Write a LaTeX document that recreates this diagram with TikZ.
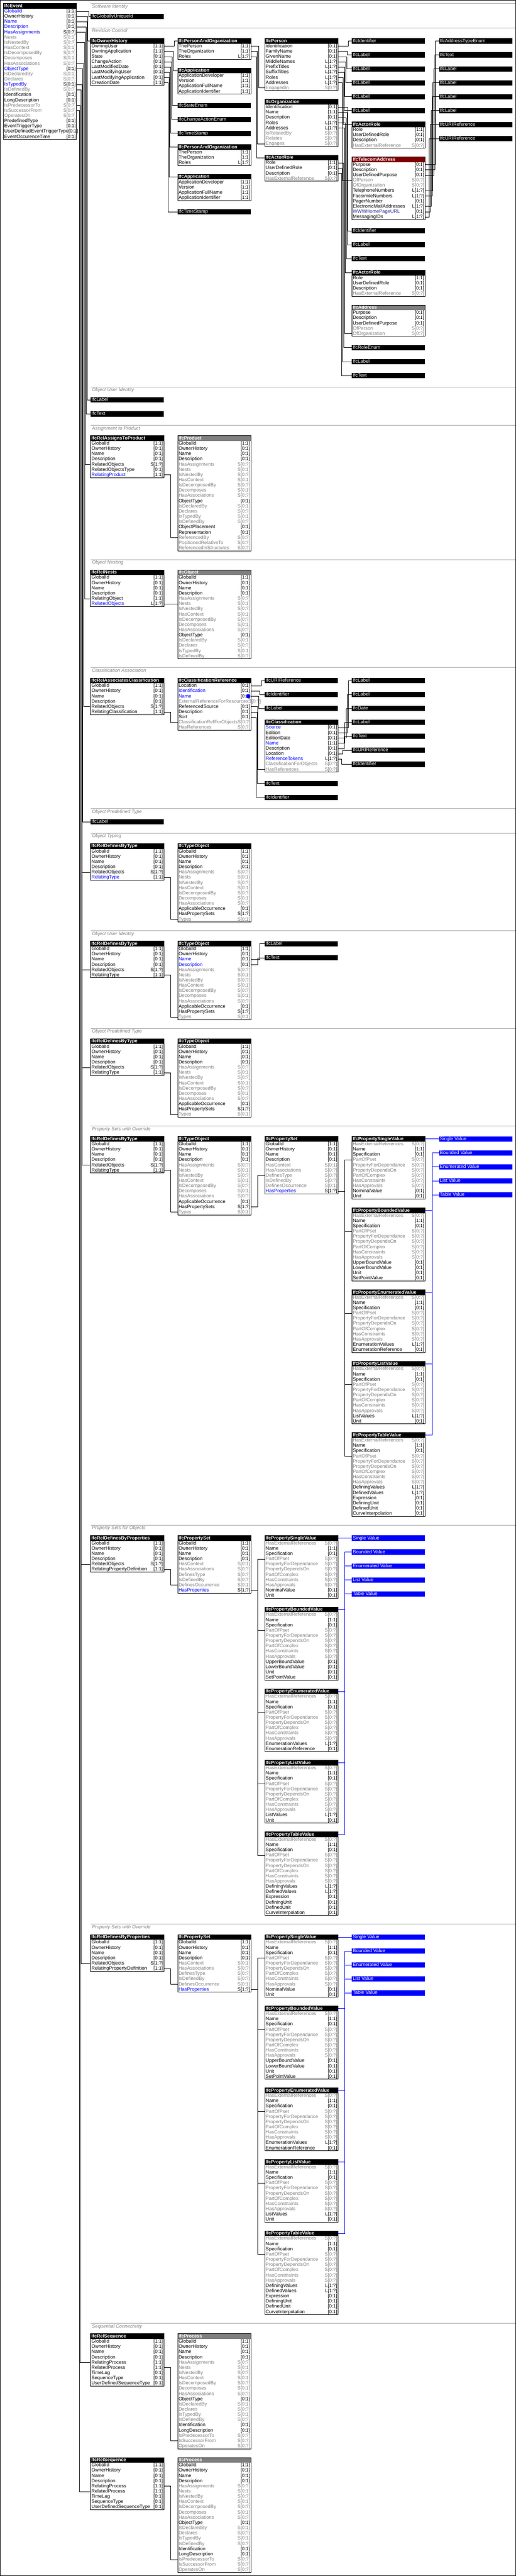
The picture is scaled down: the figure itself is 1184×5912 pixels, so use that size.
\documentclass[tikz,border=0pt]{standalone}
\usepackage{fontspec}
\setmainfont{Liberation Sans}
\usetikzlibrary{calc,fit}
\definecolor{std}{RGB}{0,0,0}
\definecolor{stdc}{RGB}{0,0,0}
\definecolor{hl}{RGB}{0,0,255}
\definecolor{hlc}{RGB}{0,0,0}
\definecolor{nav}{RGB}{40,40,140}
\definecolor{navc}{RGB}{0,0,0}
\definecolor{inv}{RGB}{128,128,128}
\definecolor{invc}{RGB}{128,128,128}
\definecolor{abstract}{RGB}{128,128,128}
\definecolor{selected}{RGB}{128,0,0}
\newcommand{\attrfont}{\fontsize{11}{12}\selectfont}
\newcommand{\headfont}{\fontsize{10.7}{12}\selectfont\bfseries}
\newcommand{\rootattrs}{GlobalId/[1:1]/std,OwnerHistory/[0:1]/std,Name/[0:1]/std,Description/[0:1]/std}
\newcommand{\objinv}{HasAssignments/S[0:?]/inv,Nests/S[0:1]/inv,IsNestedBy/S[0:?]/inv,HasContext/S[0:1]/inv,IsDecomposedBy/S[0:?]/inv,Decomposes/S[0:1]/inv,HasAssociations/S[0:?]/inv}
\newcommand{\objattrs}{\objinv,ObjectType/[0:1]/std,IsDeclaredBy/S[0:1]/inv,Declares/S[0:?]/inv,IsTypedBy/S[0:1]/inv,IsDefinedBy/S[0:?]/inv}
\newcommand{\typeattrs}{\objinv,ApplicableOccurrence/[0:1]/std,HasPropertySets/S[1:?]/std,Types/S[0:1]/inv}
\newcommand{\propattrs}{HasExternalReferences/S[0:?]/inv,Name/[1:1]/std,Specification/[0:1]/std,PartOfPset/S[0:?]/inv,PropertyForDependance/S[0:?]/inv,PropertyDependsOn/S[0:?]/inv,PartOfComplex/S[0:?]/inv,HasConstraints/S[0:?]/inv,HasApprovals/S[0:?]/inv}
\newcommand{\psetattrs}{\rootattrs,HasContext/S[0:1]/inv,HasAssociations/S[0:?]/inv,DefinesType/S[0:?]/inv,IsDefinedBy/S[0:?]/inv,DefinesOccurrence/S[0:1]/inv,HasProperties/S[1:?]/hl}
\newcommand{\procattrs}{\rootattrs,\objattrs,Identification/[0:1]/std,LongDescription/[0:1]/std,IsPredecessorTo/S[0:?]/inv,IsSuccessorFrom/S[0:?]/inv,OperatesOn/S[0:?]/inv}
\newcommand{\seqattrs}{\rootattrs,RelatingProcess/[1:1]/std,RelatedProcess/[1:1]/std,TimeLag/[0:1]/std,SequenceType/[0:1]/std,UserDefinedSequenceType/[0:1]/std}
\newcommand{\roleattrs}{Role/[1:1]/std,UserDefinedRole/[0:1]/std,Description/[0:1]/std,HasExternalReference/S[0:?]/inv}
\newcommand{\poattrs}{ThePerson/[1:1]/std,TheOrganization/[1:1]/std,Roles/L[1:?]/std}
\newcommand{\appattrs}{ApplicationDeveloper/[1:1]/std,Version/[1:1]/std,ApplicationFullName/[1:1]/std,ApplicationIdentifier/[1:1]/std}
\makeatletter
\pgfkeys{
  /ent/.cd,
  id/.store in=\ent@id,
  name/.store in=\ent@name,
  at/.store in=\ent@pos,
  head/.store in=\ent@head,
}
\newcommand{\entitybox}[2][]{
  \pgfkeys{/ent/.cd,head=black,#1}
  \edef\ent@list{#2}
  \node[entity head,fill=\ent@head] (\ent@id) at \ent@pos {\hbox to 164pt{\ent@name\hss}};
  \foreach \a/\c/\k [count=\i] in \ent@list {
    \node[entity row] (\ent@id-\a) at ($ (\ent@id.north west) + (0,12*\i) $) {\hbox to 164pt{\textcolor{\k}{\a}\hfill\textcolor{\k c}{\c}}};
    \xdef\ent@last{\a}
  }
  \node[entity frame,fit=(\ent@id) (\ent@id-\ent@last)] (\ent@id-box) {};
}
\makeatother
\newcommand{\typenode}[4][type bar]{\node[#1] (#2) at (#3) {\hbox to 164pt{#4\hss}};}
\newcommand{\subjectarea}[3]{
  \draw[area line] (208,#2) -- (1183,#2);
  \node[area label] (#1) at (211,#2+2) {#3};
}
\newcommand{\attrlink}[4][]{\draw[relation,#1] (#2.east) -- ++(#4,0) |- (#3.west);}
\newcommand{\propgroup}[5]{
  \entitybox[id=#1-sv,name=IfcPropertySingleValue,at={(#2,#3)}]{\propattrs,NominalValue/[0:1]/std,Unit/[0:1]/std}
  \entitybox[id=#1-bv,name=IfcPropertyBoundedValue,at={(#2,#3+164)}]{\propattrs,UpperBoundValue/[0:1]/std,LowerBoundValue/[0:1]/std,Unit/[0:1]/std,SetPointValue/[0:1]/std}
  \entitybox[id=#1-ev,name=IfcPropertyEnumeratedValue,at={(#2,#3+352)}]{\propattrs,EnumerationValues/L[1:?]/std,EnumerationReference/[0:1]/std}
  \entitybox[id=#1-lv,name=IfcPropertyListValue,at={(#2,#3+516)}]{\propattrs,ListValues/L[1:?]/std,Unit/[0:1]/std}
  \entitybox[id=#1-tv,name=IfcPropertyTableValue,at={(#2,#3+680)}]{\propattrs,DefiningValues/L[1:?]/std,DefinedValues/L[1:?]/std,Expression/[0:1]/std,DefiningUnit/[0:1]/std,DefinedUnit/[0:1]/std,CurveInterpolation/[0:1]/std}
  \typenode[value bar]{#1-single}{#4,#3}{Single Value}
  \typenode[value bar]{#1-bounded}{#4,#3+32}{Bounded Value}
  \typenode[value bar]{#1-enum}{#4,#3+64}{Enumerated Value}
  \typenode[value bar]{#1-list}{#4,#3+96}{List Value}
  \typenode[value bar]{#1-table}{#4,#3+128}{Table Value}
  \foreach \p in {sv,bv,ev,lv,tv} {\attrlink{#5-HasProperties}{#1-\p-PartOfPset}{16}}
  \attrlink[value link]{#1-sv}{#1-single}{16}
  \attrlink[value link]{#1-bv}{#1-bounded}{16}
  \attrlink[value link]{#1-ev}{#1-enum}{16}
  \attrlink[value link]{#1-lv}{#1-list}{16}
  \attrlink[value link]{#1-tv}{#1-table}{16}
}

\begin{document}
\begin{tikzpicture}[
    x=1pt,y=-1pt,
    entity head/.style={anchor=north west,outer sep=0pt,inner xsep=2pt,inner ysep=0pt,minimum height=12pt,text height=8.5pt,text depth=2.5pt,text=white,font=\headfont},
    entity row/.style={anchor=north west,outer sep=0pt,inner xsep=2pt,inner ysep=0pt,minimum height=12pt,text height=8.5pt,text depth=2.5pt,font=\attrfont},
    entity frame/.style={draw,line width=1pt,inner sep=0pt,outer sep=0pt},
    type bar/.style={anchor=north west,outer sep=0pt,fill=black,text=white,inner xsep=2pt,inner ysep=0pt,minimum height=12pt,text height=8.5pt,text depth=2.5pt,font=\attrfont},
    value bar/.style={type bar,fill=blue},
    relation/.style={line width=1pt},
    value link/.style={draw=blue},
    area line/.style={draw=gray!70,line width=1pt},
    area label/.style={anchor=north west,inner sep=0pt,text=gray,font=\attrfont\itshape},
    mark dot/.style={circle,fill=blue,inner sep=0pt,minimum size=10pt},
  ]
  \useasboundingbox (0,0) rectangle (1184,5912);
  \draw[line width=1pt] (0.5,0.5) rectangle (1183.5,5911.5);

  \entitybox[id=ev,name=IfcEvent,at={(8,8)}]{GlobalId/[1:1]/hl,OwnerHistory/[0:1]/std,Name/[0:1]/hl,Description/[0:1]/hl,HasAssignments/S[0:?]/hl,Nests/S[0:1]/inv,IsNestedBy/S[0:?]/inv,HasContext/S[0:1]/inv,IsDecomposedBy/S[0:?]/inv,Decomposes/S[0:1]/inv,HasAssociations/S[0:?]/inv,ObjectType/[0:1]/hl,IsDeclaredBy/S[0:1]/inv,Declares/S[0:?]/inv,IsTypedBy/S[0:1]/hl,IsDefinedBy/S[0:?]/inv,Identification/[0:1]/std,LongDescription/[0:1]/std,IsPredecessorTo/S[0:?]/inv,IsSuccessorFrom/S[0:?]/inv,OperatesOn/S[0:?]/inv,PredefinedType/[0:1]/std,EventTriggerType/[0:1]/std,UserDefinedEventTriggerType/[0:1]/std,EventOccurenceTime/[0:1]/std}

  % software identity
  \subjectarea{area-software}{8}{Software Identity}
  \typenode{guid}{208,32}{IfcGloballyUniqueId}

  % revision control
  \subjectarea{area-revision}{64}{Revision Control}
  \entitybox[id=oh,name=IfcOwnerHistory,at={(208,88)}]{OwningUser/[1:1]/std,OwningApplication/[1:1]/std,State/[0:1]/std,ChangeAction/[0:1]/std,LastModifiedDate/[0:1]/std,LastModifyingUser/[0:1]/std,LastModifyingApplication/[0:1]/std,CreationDate/[1:1]/std}
  \entitybox[id=po1,name=IfcPersonAndOrganization,at={(408,88)}]{\poattrs}
  \entitybox[id=app1,name=IfcApplication,at={(408,156)}]{\appattrs}
  \typenode{state}{408,236}{IfcStateEnum}
  \typenode{change}{408,268}{IfcChangeActionEnum}
  \typenode{stamp1}{408,300}{IfcTimeStamp}
  \entitybox[id=po2,name=IfcPersonAndOrganization,at={(408,332)}]{\poattrs}
  \entitybox[id=app2,name=IfcApplication,at={(408,400)}]{\appattrs}
  \typenode{stamp2}{408,480}{IfcTimeStamp}
  \entitybox[id=person,name=IfcPerson,at={(608,88)}]{Identification/[0:1]/std,FamilyName/[0:1]/std,GivenName/[0:1]/std,MiddleNames/L[1:?]/std,PrefixTitles/L[1:?]/std,SuffixTitles/L[1:?]/std,Roles/L[1:?]/std,Addresses/L[1:?]/std,EngagedIn/S[0:?]/inv}
  \entitybox[id=org,name=IfcOrganization,at={(608,228)}]{Identification/[0:1]/std,Name/[1:1]/std,Description/[0:1]/std,Roles/L[1:?]/std,Addresses/L[1:?]/std,IsRelatedBy/S[0:?]/inv,Relates/S[0:?]/inv,Engages/S[0:?]/inv}
  \entitybox[id=role,name=IfcActorRole,at={(608,356)}]{\roleattrs}
  \typenode{p-ident}{808,88}{IfcIdentifier}
  \typenode{p-family}{808,120}{IfcLabel}
  \typenode{p-given}{808,152}{IfcLabel}
  \typenode{p-middle}{808,184}{IfcLabel}
  \typenode{p-prefix}{808,216}{IfcLabel}
  \typenode{p-suffix}{808,248}{IfcLabel}
  \entitybox[id=p-role,name=IfcActorRole,at={(808,280)}]{\roleattrs}
  \entitybox[id=tel,name=IfcTelecomAddress,at={(808,360)},head=selected]{Purpose/[0:1]/std,Description/[0:1]/std,UserDefinedPurpose/[0:1]/std,OfPerson/S[0:?]/inv,OfOrganization/S[0:?]/inv,TelephoneNumbers/L[1:?]/std,FacsimileNumbers/L[1:?]/std,PagerNumber/[0:1]/std,ElectronicMailAddresses/L[1:?]/std,WWWHomePageURL/[0:1]/nav,MessagingIDs/L[1:?]/std}
  \typenode{o-ident}{808,524}{IfcIdentifier}
  \typenode{o-name}{808,556}{IfcLabel}
  \typenode{o-desc}{808,588}{IfcText}
  \entitybox[id=o-role,name=IfcActorRole,at={(808,620)}]{\roleattrs}
  \entitybox[id=addr,name=IfcAddress,at={(808,700)},head=abstract]{Purpose/[0:1]/std,Description/[0:1]/std,UserDefinedPurpose/[0:1]/std,OfPerson/S[0:?]/inv,OfOrganization/S[0:?]/inv}
  \typenode{r-role}{808,792}{IfcRoleEnum}
  \typenode{r-label}{808,824}{IfcLabel}
  \typenode{r-text}{808,856}{IfcText}
  \typenode{t-purpose}{1008,88}{IfcAddressTypeEnum}
  \typenode{t-desc}{1008,120}{IfcText}
  \typenode{t-udp}{1008,152}{IfcLabel}
  \typenode{t-phone}{1008,184}{IfcLabel}
  \typenode{t-fax}{1008,216}{IfcLabel}
  \typenode{t-mail}{1008,248}{IfcLabel}
  \typenode{t-web}{1008,280}{IfcURIReference}
  \typenode{t-msg}{1008,312}{IfcURIReference}

  \attrlink{oh-OwningUser}{po1}{24}
  \attrlink{oh-OwningApplication}{app1}{22}
  \attrlink{oh-State}{state}{20}
  \attrlink{oh-ChangeAction}{change}{18}
  \attrlink{oh-LastModifiedDate}{stamp1}{16}
  \attrlink{oh-LastModifyingUser}{po2}{14}
  \attrlink{oh-LastModifyingApplication}{app2}{12}
  \attrlink{oh-CreationDate}{stamp2}{10}
  \attrlink{po1-ThePerson}{person-EngagedIn}{18}
  \attrlink{po1-TheOrganization}{org-Engages}{15}
  \attrlink{po1-Roles}{role}{13}
  \attrlink{person-Identification}{p-ident}{24}
  \attrlink{person-FamilyName}{p-family}{22}
  \attrlink{person-GivenName}{p-given}{20}
  \attrlink{person-MiddleNames}{p-middle}{18}
  \attrlink{person-PrefixTitles}{p-prefix}{16}
  \attrlink{person-SuffixTitles}{p-suffix}{14}
  \attrlink{person-Roles}{p-role}{12}
  \attrlink{person-Addresses}{tel-OfPerson}{10}
  \attrlink{org-Identification}{o-ident}{23}
  \attrlink{org-Name}{o-name}{21}
  \attrlink{org-Description}{o-desc}{19}
  \attrlink{org-Roles}{o-role}{17}
  \attrlink{org-Addresses}{addr-OfOrganization}{15}
  \attrlink{role-Role}{r-role}{13}
  \attrlink{role-UserDefinedRole}{r-label}{11}
  \attrlink{role-Description}{r-text}{8}
  \attrlink{tel-Purpose}{t-purpose}{24}
  \attrlink{tel-Description}{t-desc}{22}
  \attrlink{tel-UserDefinedPurpose}{t-udp}{20}
  \attrlink{tel-TelephoneNumbers}{t-phone}{18}
  \attrlink{tel-FacsimileNumbers}{t-fax}{16}
  \attrlink{tel-ElectronicMailAddresses}{t-mail}{14}
  \attrlink{tel-WWWHomePageURL}{t-web}{12}
  \attrlink{tel-MessagingIDs}{t-msg}{10}

  % object user identity
  \subjectarea{area-user}{888}{Object User Identity}
  \typenode{u-label}{208,912}{IfcLabel}
  \typenode{u-text}{208,944}{IfcText}

  % assignment to product
  \subjectarea{area-product}{976}{Assignment to Product}
  \entitybox[id=rap,name=IfcRelAssignsToProduct,at={(208,1000)}]{\rootattrs,RelatedObjects/S[1:?]/std,RelatedObjectsType/[0:1]/std,RelatingProduct/[1:1]/hl}
  \entitybox[id=prod,name=IfcProduct,at={(408,1000)},head=abstract]{\rootattrs,\objattrs,ObjectPlacement/[0:1]/std,Representation/[0:1]/std,ReferencedBy/S[0:?]/inv,PositionedRelativeTo/S[0:?]/inv,ReferencedInStructures/S[0:?]/inv}
  \attrlink{rap-RelatingProduct}{prod-ReferencedBy}{16}

  % object nesting
  \subjectarea{area-nesting}{1284}{Object Nesting}
  \entitybox[id=nest,name=IfcRelNests,at={(208,1308)}]{\rootattrs,RelatingObject/[1:1]/std,RelatedObjects/L[1:?]/hl}
  \entitybox[id=obj,name=IfcObject,at={(408,1308)},head=abstract]{\rootattrs,\objattrs}
  \attrlink{nest-RelatedObjects}{obj-Nests}{16}

  % classification association
  \subjectarea{area-class}{1532}{Classification Association}
  \entitybox[id=rac,name=IfcRelAssociatesClassification,at={(208,1556)}]{\rootattrs,RelatedObjects/S[1:?]/std,RelatingClassification/[1:1]/std}
  \entitybox[id=cref,name=IfcClassificationReference,at={(408,1556)}]{Location/[0:1]/std,Identification/[0:1]/hl,Name/[0:1]/hl,ExternalReferenceForResources/S[0:?]/inv,ReferencedSource/[0:1]/std,Description/[0:1]/std,Sort/[0:1]/std,ClassificationRefForObjects/S[0:?]/inv,HasReferences/S[0:?]/inv}
  \node[mark dot] (cref-mark) at ($ (cref-Name.east) + (-6,0) $) {};
  \typenode{c-uri}{608,1556}{IfcURIReference}
  \typenode{c-ident}{608,1588}{IfcIdentifier}
  \typenode{c-label}{608,1620}{IfcLabel}
  \entitybox[id=cls,name=IfcClassification,at={(608,1652)}]{Source/[0:1]/hl,Edition/[0:1]/std,EditionDate/[0:1]/std,Name/[1:1]/hl,Description/[0:1]/std,Location/[0:1]/std,ReferenceTokens/L[1:?]/hl,ClassificationForObjects/S[0:?]/inv,HasReferences/S[0:?]/inv}
  \typenode{c-text}{608,1792}{IfcText}
  \typenode{c-sort}{608,1824}{IfcIdentifier}
  \typenode{k-source}{808,1556}{IfcLabel}
  \typenode{k-edition}{808,1588}{IfcLabel}
  \typenode{k-date}{808,1620}{IfcDate}
  \typenode{k-name}{808,1652}{IfcLabel}
  \typenode{k-desc}{808,1684}{IfcText}
  \typenode{k-loc}{808,1716}{IfcURIReference}
  \typenode{k-tokens}{808,1748}{IfcIdentifier}
  \attrlink{rac-RelatingClassification}{cref-ClassificationRefForObjects}{16}
  \attrlink{cref-Location}{c-uri}{24}
  \attrlink{cref-Identification}{c-ident}{21}
  \attrlink{cref-Name}{c-label}{18}
  \attrlink{cref-ReferencedSource}{cls-HasReferences}{16}
  \attrlink{cref-Description}{c-text}{14}
  \attrlink{cref-Sort}{c-sort}{12}
  \attrlink{cls-Source}{k-source}{24}
  \attrlink{cls-Edition}{k-edition}{21}
  \attrlink{cls-EditionDate}{k-date}{19}
  \attrlink{cls-Name}{k-name}{16}
  \attrlink{cls-Description}{k-desc}{14}
  \attrlink{cls-Location}{k-loc}{11}
  \attrlink{cls-ReferenceTokens}{k-tokens}{9}

  % object predefined type
  \subjectarea{area-predef}{1856}{Object Predefined Type}
  \typenode{pt-label}{208,1880}{IfcLabel}

  % object typing
  \subjectarea{area-typing}{1912}{Object Typing}
  \entitybox[id=rdt1,name=IfcRelDefinesByType,at={(208,1936)}]{\rootattrs,RelatedObjects/S[1:?]/std,RelatingType/[1:1]/hl}
  \entitybox[id=to1,name=IfcTypeObject,at={(408,1936)}]{\rootattrs,\typeattrs}

  \subjectarea{area-typeuser}{2136}{Object User Identity}
  \entitybox[id=rdt2,name=IfcRelDefinesByType,at={(208,2160)}]{\rootattrs,RelatedObjects/S[1:?]/std,RelatingType/[1:1]/std}
  \entitybox[id=to2,name=IfcTypeObject,at={(408,2160)}]{GlobalId/[1:1]/std,OwnerHistory/[0:1]/std,Name/[0:1]/hl,Description/[0:1]/hl,\typeattrs}
  \typenode{tu-label}{608,2160}{IfcLabel}
  \typenode{tu-text}{608,2192}{IfcText}
  \attrlink{to2-Name}{tu-label}{20}
  \attrlink{to2-Description}{tu-text}{16}

  \subjectarea{area-typepredef}{2360}{Object Predefined Type}
  \entitybox[id=rdt3,name=IfcRelDefinesByType,at={(208,2384)}]{\rootattrs,RelatedObjects/S[1:?]/std,RelatingType/[1:1]/std}
  \entitybox[id=to3,name=IfcTypeObject,at={(408,2384)}]{\rootattrs,\typeattrs}

  % property sets
  \subjectarea{area-typepset}{2584}{Property Sets with Override}
  \entitybox[id=rdt4,name=IfcRelDefinesByType,at={(208,2608)}]{\rootattrs,RelatedObjects/S[1:?]/std,RelatingType/[1:1]/std}
  \entitybox[id=to4,name=IfcTypeObject,at={(408,2608)}]{\rootattrs,\typeattrs}
  \entitybox[id=tps,name=IfcPropertySet,at={(608,2608)}]{\psetattrs}
  \propgroup{g1}{808}{2608}{1008}{tps}
  \attrlink{to4-HasPropertySets}{tps-DefinesType}{16}
  \foreach \n in {1,2,3,4} {\attrlink{rdt\n-RelatingType}{to\n-Types}{16}}

  \subjectarea{area-objpset}{3500}{Property Sets for Objects}
  \entitybox[id=rdp1,name=IfcRelDefinesByProperties,at={(208,3524)}]{\rootattrs,RelatedObjects/S[1:?]/std,RelatingPropertyDefinition/[1:1]/std}
  \entitybox[id=ops1,name=IfcPropertySet,at={(408,3524)}]{\psetattrs}
  \propgroup{g2}{608}{3524}{808}{ops1}

  \subjectarea{area-override}{4416}{Property Sets with Override}
  \entitybox[id=rdp2,name=IfcRelDefinesByProperties,at={(208,4440)}]{\rootattrs,RelatedObjects/S[1:?]/std,RelatingPropertyDefinition/[1:1]/std}
  \entitybox[id=ops2,name=IfcPropertySet,at={(408,4440)}]{\psetattrs}
  \propgroup{g3}{608}{4440}{808}{ops2}
  \foreach \n in {1,2} {\attrlink{rdp\n-RelatingPropertyDefinition}{ops\n-DefinesOccurrence}{16}}

  % sequential connectivity
  \subjectarea{area-sequence}{5332}{Sequential Connectivity}
  \entitybox[id=seq1,name=IfcRelSequence,at={(208,5356)}]{\seqattrs}
  \entitybox[id=proc1,name=IfcProcess,at={(408,5356)},head=abstract]{\procattrs}
  \entitybox[id=seq2,name=IfcRelSequence,at={(208,5640)}]{\seqattrs}
  \entitybox[id=proc2,name=IfcProcess,at={(408,5640)},head=abstract]{\procattrs}
  \attrlink{seq1-RelatedProcess}{proc1-IsSuccessorFrom}{16}
  \attrlink{seq2-RelatingProcess}{proc2-IsPredecessorTo}{16}

  % links from the event
  \attrlink{ev-GlobalId}{guid}{28}
  \attrlink{ev-OwnerHistory}{oh}{26}
  \attrlink{ev-Name}{u-label}{24}
  \attrlink{ev-Description}{u-text}{22}
  \attrlink{ev-HasAssignments}{rap-RelatedObjects}{20}
  \attrlink{ev-IsNestedBy}{nest-RelatingObject}{18}
  \attrlink{ev-HasAssociations}{rac-RelatedObjects}{16}
  \attrlink{ev-ObjectType}{pt-label}{14}
  \foreach \rel in {rdt1,rdt2,rdt3,rdt4} {\attrlink{ev-IsTypedBy}{\rel-RelatedObjects}{12}}
  \foreach \rel in {rdp1,rdp2} {\attrlink{ev-IsDefinedBy}{\rel-RelatedObjects}{10}}
  \attrlink{ev-IsPredecessorTo}{seq1-RelatingProcess}{8}
  \attrlink{ev-IsSuccessorFrom}{seq2-RelatedProcess}{6}

\end{tikzpicture}
\end{document}
